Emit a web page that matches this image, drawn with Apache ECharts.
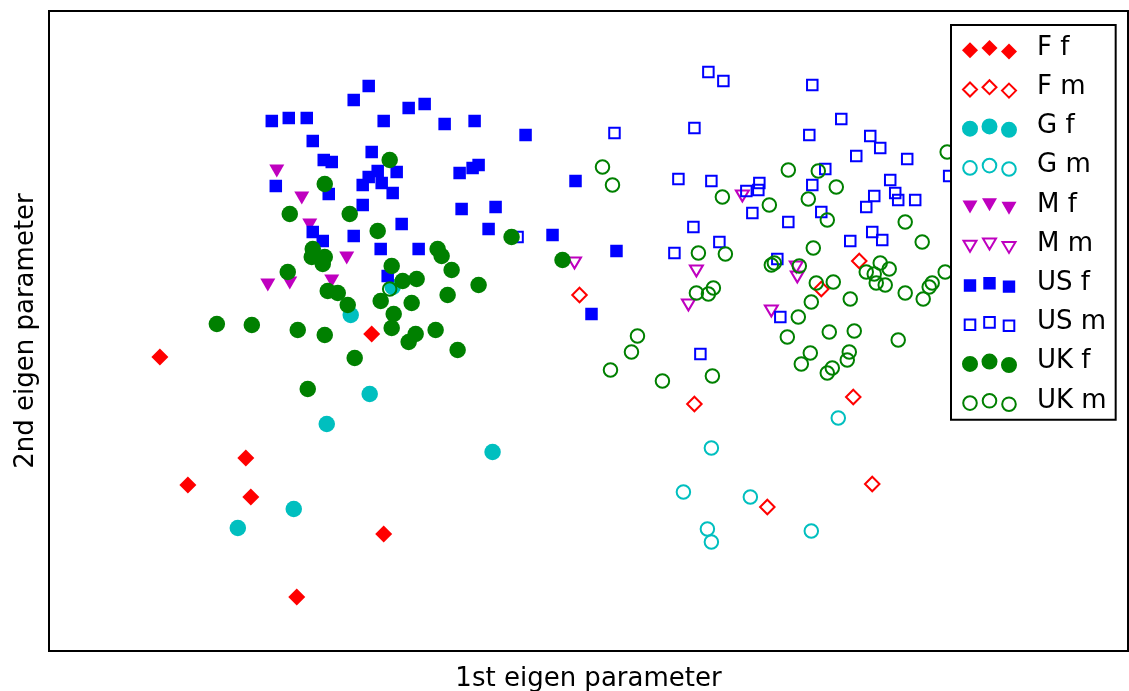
<!DOCTYPE html>
<html><head><meta charset="utf-8">
<script src="https://cdn.jsdelivr.net/npm/echarts@6/dist/echarts.min.js"></script>
<style>html,body{margin:0;padding:0;background:#fff}#c{width:1129px;height:691px}</style>
</head><body><div id="c"></div>
<script>
// ---- data (1st eigen parameter, 2nd eigen parameter) ----
const seriesNames = ['F f','F m','G f','G m','M f','M m','US f','US m','UK f','UK m'];

const F_f = [[-4.29,-0.26],[-3.43,-1.27],[-4.01,-1.54],[-3.38,-1.66],[-2.05,-2.03],[-2.92,-2.66],[-2.17,-0.03]];
const F_m = [[-0.09,0.36],[2.71,0.70],[2.33,0.42],[1.06,-0.73],[2.65,-0.66],[2.84,-1.53],[1.79,-1.76]];
const G_f = [[-2.38,0.16],[-2.19,-0.63],[-2.62,-0.93],[-0.96,-1.21],[-2.95,-1.78],[-3.51,-1.97],[-1.96,0.44]];
const G_m = [[1.23,-1.17],[0.95,-1.61],[1.62,-1.66],[1.19,-1.98],[1.23,-2.11],[2.23,-2.00],[2.50,-0.87]];
const M_f = [[-3.12,1.60],[-2.87,1.33],[-2.79,1.06],[-2.42,0.73],[-2.57,0.50],[-3.21,0.46],[-2.99,0.48]];
const M_m = [[-0.14,0.68],[1.08,0.60],[1.00,0.26],[1.54,1.35],[2.08,0.64],[2.09,0.54],[1.83,0.20]];
const US_f = [[-3.17,2.10],[-3.00,2.13],[-2.82,2.13],[-2.76,1.90],[-2.65,1.71],[-2.57,1.69],[-3.13,1.45],
  [-2.60,1.37],[-2.20,2.45],[-2.35,2.31],[-1.80,2.23],[-1.64,2.27],[-2.05,2.10],[-1.44,2.07],[-1.14,2.10],
  [-0.63,1.96],[-2.17,1.79],[-1.92,1.59],[-2.11,1.60],[-2.20,1.54],[-2.26,1.46],[-2.07,1.48],[-1.96,1.38],
  [-1.29,1.58],[-1.16,1.63],[-1.10,1.66],[-2.26,1.26],[-1.27,1.22],[-0.93,1.24],[-1.87,1.07],[-2.76,0.99],
  [-2.66,0.90],[-2.35,0.95],[-2.08,0.82],[-1.70,0.82],[-1.00,1.02],[-0.36,0.96],[-2.01,0.55],[-0.13,1.50],
  [0.28,0.80],[0.03,0.17]];
const US_m = [[1.20,2.59],[1.35,2.50],[0.26,1.98],[1.06,2.03],[0.90,1.52],[1.23,1.50],[1.58,1.40],[1.70,1.41],
  [1.71,1.48],[1.64,1.18],[1.05,1.04],[1.31,0.89],[0.86,0.78],[-0.71,0.94],[2.24,2.46],[2.53,2.12],[2.21,1.96],
  [2.82,1.95],[2.92,1.83],[2.68,1.75],[3.19,1.72],[2.37,1.62],[2.24,1.46],[3.02,1.51],[2.86,1.35],[3.07,1.38],
  [3.10,1.31],[3.27,1.31],[2.78,1.24],[2.33,1.19],[2.00,1.09],[2.84,0.99],[2.94,0.91],[2.62,0.90],[1.89,0.72],
  [3.61,1.55],[1.12,-0.23],[1.92,0.14]];
const UK_f = [[-2.64,1.47],[-2.99,1.17],[-2.39,1.17],[-1.99,1.71],[-2.11,1.00],[-2.76,0.82],[-2.77,0.74],
  [-2.64,0.74],[-2.66,0.67],[-3.01,0.59],[-2.61,0.40],[-2.51,0.38],[-2.41,0.26],[-2.08,0.30],[-3.72,0.07],
  [-3.37,0.06],[-2.91,0.01],[-2.64,-0.04],[-2.34,-0.27],[-1.51,0.82],[-1.47,0.75],[-1.97,0.65],[-1.37,0.61],
  [-1.86,0.50],[-1.72,0.52],[-1.10,0.46],[-1.41,0.36],[-1.77,0.28],[-1.95,0.17],[-1.97,0.03],[-1.73,-0.03],
  [-1.80,-0.11],[-1.53,0.01],[-1.31,-0.19],[-0.77,0.94],[-0.26,0.71],[-2.81,-0.58]];
const UK_m = [[0.14,1.64],[0.24,1.46],[1.34,1.34],[1.81,1.26],[1.10,0.78],[1.37,0.77],[2.00,1.61],[2.30,1.60],
  [2.48,1.44],[2.20,1.32],[2.39,1.11],[3.17,1.09],[2.25,0.83],[3.34,0.89],[3.59,1.79],[1.08,0.38],[1.20,0.37],
  [1.25,0.43],[0.49,-0.05],[0.43,-0.21],[0.22,-0.39],[0.74,-0.50],[1.24,-0.45],[1.83,0.66],[1.86,0.68],
  [2.11,0.65],[2.28,0.48],[2.45,0.49],[2.62,0.32],[2.23,0.29],[2.10,0.14],[1.99,-0.06],[2.41,-0.01],
  [2.66,0.00],[2.22,-0.22],[2.13,-0.33],[2.44,-0.37],[2.39,-0.42],[2.61,-0.21],[2.59,-0.29],[3.10,-0.09],
  [2.92,0.68],[2.78,0.59],[2.86,0.57],[3.01,0.62],[2.88,0.48],[2.97,0.46],[3.17,0.38],[3.35,0.32],
  [3.41,0.44],[3.44,0.48],[3.57,0.59],[-1.99,0.42]];

const seriesData = [F_f, F_m, G_f, G_m, M_f, M_m, US_f, US_m, UK_f, UK_m];
const xLabel = '1st eigen parameter';
const yLabel = '2nd eigen parameter';

// ---- styles ----
const RED = '#ff0000', CYAN = '#00bfbf', MAG = '#bf00bf', BLUE = '#0000ff', GREEN = '#008000';
const looks = [
  {kind:'diamond', color:RED,   filled:true},
  {kind:'diamond', color:RED,   filled:false},
  {kind:'circle',  color:CYAN,  filled:true},
  {kind:'circle',  color:CYAN,  filled:false},
  {kind:'tri',     color:MAG,   filled:true},
  {kind:'tri',     color:MAG,   filled:false},
  {kind:'square',  color:BLUE,  filled:true},
  {kind:'square',  color:BLUE,  filled:false},
  {kind:'circle',  color:GREEN, filled:true},
  {kind:'circle',  color:GREEN, filled:false}
];
const TRI = 'path://M0 0 L14 0 L7 12 Z';
function seriesSymbol(l){
  if (l.kind==='diamond') return ['diamond', l.filled?17:14.5];
  if (l.kind==='circle') return ['circle', l.filled?16.5:13.5];
  if (l.kind==='tri') return [TRI, l.filled?[15,13]:[13,11]];
  return ['rect', l.filled?12.5:10.5];
}
// legend handle: three markers, matplotlib-style offsets
const IW = 58, IH = 24, IX = [9, 28.5, 48], IY = [14.3, 12, 15.4];
function legendIcon(l){
  let d = 'M0 0 M'+IW+' '+IH+' ';
  for (let i=0;i<3;i++){
    const cx = IX[i], cy = IY[i];
    if (l.kind==='diamond'){
      const h = l.filled?8:7;
      d += `M${cx} ${cy-h} L${cx+h} ${cy} L${cx} ${cy+h} L${cx-h} ${cy} Z `;
    } else if (l.kind==='circle'){
      const r = l.filled?8:6.8;
      d += `M${cx-r} ${cy} A${r} ${r} 0 1 0 ${cx+r} ${cy} A${r} ${r} 0 1 0 ${cx-r} ${cy} Z `;
    } else if (l.kind==='tri'){
      const w = l.filled?7.5:6.5, h = l.filled?6.5:5.5;
      d += `M${cx-w} ${cy-h} L${cx+w} ${cy-h} L${cx} ${cy+h} Z `;
    } else {
      const h = l.filled?6.2:5.3;
      d += `M${cx-h} ${cy-h} L${cx+h} ${cy-h} L${cx+h} ${cy+h} L${cx-h} ${cy+h} Z `;
    }
  }
  return 'path://' + d;
}

const FONT = 'DejaVu Sans';
const chart = echarts.init(document.getElementById('c'), null, {renderer:'canvas'});
chart.setOption({
  animation: false,
  backgroundColor: '#fff',
  grid: {left:49, right:1, top:11, bottom:40, outerBoundsMode:'none', containLabel:false,
    show:true, borderColor:'#000', borderWidth:2, backgroundColor:'transparent'},
  xAxis: {type:'value', min:-5.4, max:5.4, name:xLabel, nameLocation:'middle', nameGap:15,
    nameTextStyle:{fontFamily:FONT, fontSize:26, color:'#000', verticalAlign:'top'},
    axisLine:{show:false}, axisTick:{show:false}, axisLabel:{show:false}, splitLine:{show:false}},
  yAxis: {type:'value', min:-3.2, max:3.2, name:yLabel, nameLocation:'middle', nameGap:10,
    nameTextStyle:{fontFamily:FONT, fontSize:26, color:'#000'},
    axisLine:{show:false}, axisTick:{show:false}, axisLabel:{show:false}, splitLine:{show:false}},
  legend: {
    orient:'vertical', left:951, top:25, padding:[10,9,6,9],
    backgroundColor:'#fff', borderColor:'#000', borderWidth:2, borderRadius:0,
    itemWidth:IW, itemHeight:IH, itemGap:13.2, symbolKeepAspect:false,
    textStyle:{fontFamily:FONT, fontSize:26, color:'#000', padding:[0,0,0,13]},
    selectedMode:false,
    data: seriesNames.map((n,i)=>({name:n, icon:legendIcon(looks[i])}))
  },
  series: seriesNames.map((n,i)=>{
    const l = looks[i], s = seriesSymbol(l);
    return {
      name:n, type:'scatter', data:seriesData[i], symbol:s[0], symbolSize:s[1],
      silent:true, emphasis:{disabled:true},
      itemStyle: l.filled ? {color:l.color, borderWidth:0, opacity:1}
                          : {color:'rgba(255,255,255,0)', borderColor:l.color, borderWidth:2, opacity:1}
    };
  })
});
</script></body></html>
